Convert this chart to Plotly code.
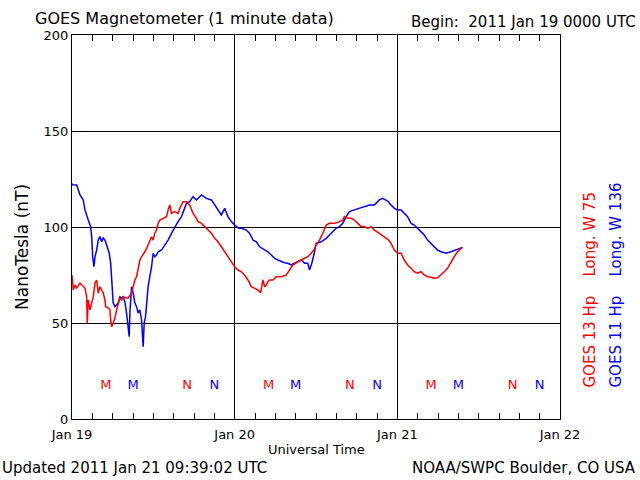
import plotly.graph_objects as go

# GOES 13 (red) : hours since 2011 Jan 19 00:00 UTC, nT
g13_hours = [0, 0.19, 0.44, 0.69, 1.18, 1.66, 1.91, 2.16, 2.25, 2.40, 2.65, 2.90, 3.14, 3.39, 3.64, 3.87,
             4.12, 4.37, 4.61, 4.86, 4.96, 5.35, 5.60, 5.70, 5.85, 6.08, 6.33, 6.58, 6.82, 7.07, 7.32,
             7.55, 8.05, 8.29, 8.79, 9.03, 9.28, 9.53, 9.76, 10.01, 10.26, 10.75, 11.23, 11.48, 11.74,
             11.97, 12.22, 12.47, 12.71, 12.96, 13.44, 13.94, 14.18, 14.43, 14.68, 15.17, 15.65, 15.90,
             16.39, 16.89, 17.37, 17.86, 18.36, 18.59, 19.10, 19.58, 20.07, 20.57, 21.06, 21.54, 22.04,
             22.53, 23.01, 23.51, 24.00, 24.49, 24.99, 25.47, 25.96, 26.46, 26.94, 27.43, 27.83, 28.17,
             28.42, 28.67, 28.90, 29.15, 29.64, 30.14, 30.88, 31.61, 32.10, 32.58, 33.32, 33.82, 34.31,
             34.79, 35.29, 35.68, 36.03, 36.52, 37.00, 37.50, 37.99, 38.72, 39.46, 39.95, 40.19, 40.68,
             41.18, 41.67, 42.15, 42.65, 43.14, 43.63, 44.13, 44.61, 45.35, 46.09, 46.72, 47.07, 47.56,
             48.05, 48.55, 49.03, 49.52, 50.02, 50.50, 50.99, 51.49, 51.98, 52.46, 52.96, 53.45, 53.93,
             54.44, 54.92, 55.41, 55.91, 56.39, 56.88, 57.61]
g13_values = [75.0, 67.2, 69.8, 68.2, 70.8, 68.9, 68.2, 63.7, 50.0, 62.0, 56.8, 60.4, 63.7, 70.8, 72.4, 65.6,
              68.9, 67.2, 65.6, 62.0, 58.5, 57.8, 56.8, 51.6, 48.1, 50.0, 52.6, 56.8, 60.4, 63.0, 62.0,
              63.7, 63.0, 63.0, 65.6, 68.9, 72.4, 74.1, 77.6, 82.8, 84.5, 87.1, 90.6, 93.2, 94.9,
              93.2, 96.9, 98.4, 101.9, 103.6, 104.5, 105.4, 108.9, 111.5, 107.1, 108.0, 107.1, 109.7,
              113.2, 113.2, 111.5, 107.1, 104.5, 102.8, 101.9, 100.2, 98.4, 96.7, 94.1, 92.3, 89.7,
              87.1, 84.5, 81.9, 79.3, 77.6, 76.7, 75.0, 72.4, 68.9, 68.1, 67.2, 65.8, 72.4,
              68.9, 69.8, 71.5, 72.4, 72.4, 74.1, 74.1, 75.0, 77.6, 80.2, 81.9, 82.8, 83.7,
              84.5, 86.3, 88.0, 90.6, 93.2, 96.7, 101.0, 101.9, 101.9, 102.8, 103.6, 105.4, 104.5,
              104.5, 103.6, 101.9, 100.2, 100.2, 99.3, 100.2, 98.4, 96.7, 95.0, 93.2, 91.5, 88.0,
              86.3, 86.3, 82.8, 80.2, 78.5, 76.7, 75.9, 76.7, 75.0, 74.1, 73.8, 73.3, 73.6,
              75.0, 76.7, 78.5, 81.9, 84.5, 87.1, 89.4]

# GOES 11 (blue)
g11_hours = [0, 0.10, 0.70, 1.18, 1.66, 1.91, 2.40, 2.75, 2.90, 3.05, 3.24, 3.39, 3.64, 3.87, 4.12, 4.37,
             4.61, 4.86, 5.20, 5.49, 5.70, 5.85, 5.99, 6.08, 6.33, 6.82, 7.07, 7.32, 7.55, 7.80, 8.05,
             8.29, 8.44, 8.54, 8.79, 9.03, 9.28, 9.53, 9.76, 10.01, 10.26, 10.50, 10.65, 10.85, 11.00,
             11.23, 11.48, 11.74, 11.97, 12.22, 12.47, 12.71, 13.21, 13.69, 14.18, 14.68, 15.17, 15.65,
             16.15, 16.54, 16.89, 17.37, 17.86, 18.36, 19.10, 19.83, 20.57, 21.06, 21.54, 22.04, 22.53,
             23.01, 23.51, 24.00, 24.63, 24.99, 25.72, 26.21, 26.70, 27.19, 27.68, 28.42, 28.90, 29.40,
             29.89, 30.38, 30.88, 31.36, 31.85, 32.35, 32.83, 33.32, 33.82, 34.31, 34.79, 35.04, 35.38,
             35.68, 36.03, 36.77, 37.50, 37.99, 38.47, 38.97, 39.46, 39.95, 40.45, 40.93, 41.67, 42.41,
             43.14, 43.88, 44.61, 45.35, 45.84, 46.34, 46.72, 46.82, 47.56, 48.05, 48.55, 49.03, 49.52,
             50.02, 50.50, 50.99, 51.49, 51.98, 52.46, 52.96, 53.45, 53.93, 54.44, 55.17, 55.91, 56.64,
             57.13, 57.61]
g11_values = [122.5, 122.0, 121.9, 116.7, 114.1, 108.9, 103.6, 100.2, 95.0, 84.5, 79.3, 84.5, 88.0, 93.2, 95.0, 92.3,
              94.3, 93.2, 89.7, 86.5, 81.3, 72.4, 63.7, 60.4, 58.5, 60.4, 63.7, 63.0, 63.7, 61.1, 55.2,
              48.1, 42.9, 55.2, 68.9, 65.6, 60.4, 58.5, 55.2, 56.8, 51.6, 37.7, 50.0, 53.3, 62.0,
              68.9, 74.1, 79.3, 86.3, 84.5, 85.4, 87.1, 88.0, 90.6, 93.2, 96.7, 100.2, 102.8,
              105.4, 108.9, 112.3, 113.2, 115.8, 114.1, 116.7, 114.9, 114.1, 111.5, 108.9, 106.3, 109.7,
              105.4, 102.8, 101.0, 99.3, 99.3, 98.4, 96.7, 93.2, 92.3, 89.7, 88.0, 87.1, 85.4,
              83.7, 82.8, 81.9, 81.4, 81.1, 80.2, 81.1, 81.9, 82.8, 81.1, 81.1, 77.6, 81.1,
              85.4, 91.5, 92.3, 94.1, 95.8, 97.6, 99.3, 100.2, 101.9, 105.4, 108.0, 108.9, 109.7,
              110.6, 111.5, 111.5, 114.1, 114.9, 114.1, 113.2, 112.3, 109.7, 108.9, 108.9, 107.1, 105.4,
              101.9, 101.0, 99.3, 97.6, 95.8, 93.2, 91.5, 89.7, 88.0, 87.1, 86.3, 87.1, 88.0,
              88.4, 89.4]

# Local midnight (M) / noon (N) markers
mark_level = 17.5
g13_mark_hours = [5, 17, 29, 41, 53, 65]
g13_mark_text = ["M", "N", "M", "N", "M", "N"]
g11_mark_hours = [9, 21, 33, 45, 57, 69]
g11_mark_text = ["M", "N", "M", "N", "M", "N"]

x_tickvals = [0, 24, 48, 72]
x_ticktext = ["Jan 19", "Jan 20", "Jan 21", "Jan 22"]
y_tickvals = [0, 50, 100, 150, 200]

RED = "#ff0000"
BLUE = "#0000ff"
FONT = "DejaVu Sans"

fig = go.Figure()
fig.add_trace(go.Scatter(x=g11_hours, y=g11_values, mode="lines",
                         line=dict(color=BLUE, width=1.5), name="GOES 11"))
fig.add_trace(go.Scatter(x=g13_hours, y=g13_values, mode="lines",
                         line=dict(color=RED, width=1.5), name="GOES 13"))
fig.add_trace(go.Scatter(x=g13_mark_hours, y=[mark_level] * len(g13_mark_hours), mode="text",
                         text=g13_mark_text, textfont=dict(color=RED, size=13, family=FONT)))
fig.add_trace(go.Scatter(x=g11_mark_hours, y=[mark_level] * len(g11_mark_hours), mode="text",
                         text=g11_mark_text, textfont=dict(color=BLUE, size=13, family=FONT)))

W, H = 640, 480
L, R, T, B = 72, 80, 35, 61
pw, ph = W - L - R, H - T - B


def px(x):
    return (x - L) / pw


def py(y):
    return (H - B - y) / ph


NB = "\u00a0"
ann = [
    dict(text="GOES Magnetometer (1 minute data)", x=px(33), y=py(18), xanchor="left", yanchor="middle",
         font=dict(size=16)),
    dict(text="Begin:" + NB * 2 + "2011 Jan 19 0000 UTC", x=px(638), y=py(22), xanchor="right", yanchor="middle",
         font=dict(size=15)),
    dict(text="Universal Time", x=0.5, y=py(449), xanchor="center", yanchor="middle", font=dict(size=13)),
    dict(text="Updated 2011 Jan 21 09:39:02 UTC", x=px(0), y=py(468), xanchor="left", yanchor="middle",
         font=dict(size=15)),
    dict(text="NOAA/SWPC Boulder, CO USA", x=px(638), y=py(468), xanchor="right", yanchor="middle",
         font=dict(size=15)),
    dict(text="NanoTesla (nT)", x=px(22), y=py(247), xanchor="center", yanchor="middle", textangle=-90,
         font=dict(size=17)),
    dict(text="GOES 13 Hp" + NB * 4 + "Long. W 75", x=px(589), y=py(390), xanchor="center", yanchor="bottom",
         textangle=-90, font=dict(size=15, color=RED)),
    dict(text="GOES 11 Hp" + NB * 4 + "Long. W 136", x=px(615), y=py(390), xanchor="center", yanchor="bottom",
         textangle=-90, font=dict(size=15, color=BLUE)),
]
for a in ann:
    a.update(xref="paper", yref="paper", showarrow=False)
    a["font"].setdefault("color", "black")
    a["font"]["family"] = FONT

fig.update_layout(
    width=W, height=H, margin=dict(l=L, r=R, t=T, b=B),
    paper_bgcolor="white", plot_bgcolor="white", showlegend=False,
    font=dict(family=FONT, color="black", size=13),
    annotations=ann,
)
fig.update_xaxes(range=[0, 72], tickvals=x_tickvals, ticktext=x_ticktext,
                 showline=True, linecolor="black", linewidth=1, mirror="ticks",
                 ticks="inside", ticklen=6, tickcolor="black", ticklabelstandoff=3,
                 showgrid=True, gridcolor="black", gridwidth=1, zeroline=False,
                 minor=dict(dtick=3, ticks="inside", ticklen=6, tickcolor="black", showgrid=False),
                 tickfont=dict(size=13))
fig.update_yaxes(range=[0, 200], tickvals=y_tickvals,
                 showline=True, linecolor="black", linewidth=1, mirror=True,
                 ticks="", showgrid=True, gridcolor="black", gridwidth=1, zeroline=False,
                 tickfont=dict(size=13))

fig.write_html("out.html", config={"displayModeBar": False},
               post_script="document.body.style.margin='0';")
